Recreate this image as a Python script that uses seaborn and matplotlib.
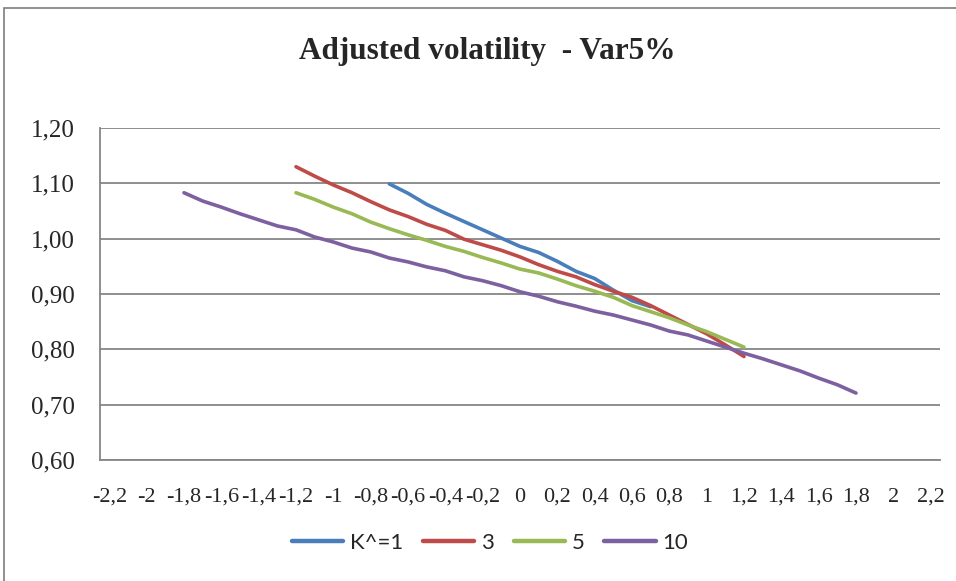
import pandas as pd
import seaborn as sns
import matplotlib.pyplot as plt
from matplotlib.lines import Line2D
from matplotlib.patches import Rectangle
from matplotlib.ticker import FixedLocator, FuncFormatter

sns.set_style("white")
plt.rcParams['font.family'] = ['Liberation Serif', 'DejaVu Serif']

# x categories for each curve
X_K1 = [-0.7, -0.6, -0.5, -0.4, -0.3, -0.2, -0.1, 0.0, 0.1, 0.2, 0.3, 0.4, 0.5, 0.6, 0.7]
X_K3 = [-1.2, -1.1, -1.0, -0.9, -0.8, -0.7, -0.6, -0.5, -0.4, -0.3, -0.2, -0.1, 0.0,
        0.1, 0.2, 0.3, 0.4, 0.5, 0.6, 0.7, 0.8, 0.9, 1.0, 1.1, 1.2]
X_K5 = X_K3
X_K10 = [-1.8, -1.7, -1.6, -1.5, -1.4, -1.3, -1.2, -1.1, -1.0, -0.9, -0.8, -0.7, -0.6,
         -0.5, -0.4, -0.3, -0.2, -0.1, 0.0, 0.1, 0.2, 0.3, 0.4, 0.5, 0.6, 0.7, 0.8,
         0.9, 1.0, 1.1, 1.2, 1.3, 1.4, 1.5, 1.6, 1.7, 1.8]

# adjusted volatility
Y_K1 = [1.099, 1.082, 1.062, 1.046, 1.031, 1.016, 1.001, 0.986, 0.975, 0.959, 0.941,
        0.928, 0.907, 0.888, 0.877]
Y_K3 = [1.130, 1.113, 1.097, 1.083, 1.067, 1.052, 1.040, 1.026, 1.015, 0.999, 0.989,
        0.979, 0.967, 0.953, 0.941, 0.931, 0.917, 0.905, 0.894, 0.879, 0.862, 0.845,
        0.828, 0.808, 0.787]
Y_K5 = [1.083, 1.071, 1.057, 1.045, 1.030, 1.018, 1.007, 0.997, 0.986, 0.977, 0.966,
        0.956, 0.945, 0.938, 0.927, 0.915, 0.905, 0.894, 0.879, 0.868, 0.857, 0.844,
        0.832, 0.818, 0.804]
Y_K10 = [1.083, 1.068, 1.057, 1.045, 1.034, 1.023, 1.016, 1.003, 0.994, 0.983, 0.976,
         0.965, 0.958, 0.949, 0.942, 0.931, 0.924, 0.915, 0.904, 0.896, 0.886, 0.878,
         0.869, 0.862, 0.853, 0.844, 0.833, 0.826, 0.815, 0.804, 0.793, 0.783, 0.772,
         0.761, 0.748, 0.736, 0.721]

SERIES = ['K^=1', '3', '5', '10']
COLORS = {'K^=1': '#4A7EBB', '3': '#BE4B48', '5': '#98B954', '10': '#7D60A0'}

XTICKS = [-2.2, -2.0, -1.8, -1.6, -1.4, -1.2, -1.0, -0.8, -0.6, -0.4, -0.2, 0.0,
          0.2, 0.4, 0.6, 0.8, 1.0, 1.2, 1.4, 1.6, 1.8, 2.0, 2.2]
YTICKS = [0.6, 0.7, 0.8, 0.9, 1.0, 1.1, 1.2]

frames = []
for name, xs, ys in zip(SERIES, [X_K1, X_K3, X_K5, X_K10], [Y_K1, Y_K3, Y_K5, Y_K10]):
    frames.append(pd.DataFrame({'x': xs, 'y': ys, 'K': name}))
df = pd.concat(frames, ignore_index=True)

fig = plt.figure(figsize=(9.56, 5.81), dpi=100)
ax = fig.add_axes([100 / 956, 1 - 460 / 581, 840 / 956, 332 / 581])

sns.lineplot(data=df, x='x', y='y', hue='K', palette=COLORS, hue_order=SERIES,
             sort=False, linewidth=2.6, legend=False, ax=ax, zorder=3)

grey = '#868686'
ax.set_xlim(-2.25, 2.25)
ax.set_ylim(0.6, 1.2)
ax.set_yticks(YTICKS)
ax.yaxis.grid(True, color=grey, linewidth=1.3)
ax.xaxis.grid(False)
ax.set_axisbelow(True)
for side in ['top', 'right']:
    ax.spines[side].set_visible(False)
for side in ['left', 'bottom']:
    ax.spines[side].set_color(grey)
    ax.spines[side].set_linewidth(1.3)

def comma(v, pos=None):
    s = f"{v:.1f}".rstrip('0').rstrip('.')
    if s == '-0':
        s = '0'
    return s.replace('.', ',')

ax.xaxis.set_major_locator(FixedLocator(XTICKS))
ax.xaxis.set_major_formatter(FuncFormatter(comma))
ax.xaxis.set_minor_locator(FixedLocator([-2.25 + 0.1 * i for i in range(46)]))
ax.yaxis.set_major_formatter(FuncFormatter(lambda v, p: f"{v:.2f}".replace('.', ',')))
ax.tick_params(axis='x', which='major', length=0, pad=20, labelsize=16)
ax.tick_params(axis='x', which='minor', length=4, width=1.2, color=grey, direction='out')
ax.tick_params(axis='y', which='major', length=6, width=1.2, color=grey, pad=12, labelsize=18)
ax.set_xlabel('')
ax.set_ylabel('')

fig.text(487 / 956, 1 - 52 / 581, 'Adjusted volatility  - Var5%', ha='center', va='center',
         fontsize=22.5, fontweight='bold')

handles = [Line2D([0], [0], color=COLORS[s], linewidth=3.2) for s in SERIES]
fig.legend(handles, SERIES, loc='center', bbox_to_anchor=(490 / 956, 1 - 543 / 581),
           ncol=4, frameon=False, handlelength=2.3, handletextpad=0.3, columnspacing=0.9,
           prop={'family': 'Lato', 'size': 16})

fig.patches.append(Rectangle((4 / 956, -0.1), 1.2, 1.1 - 8 / 581, transform=fig.transFigure,
                             fill=False, edgecolor='#888888', linewidth=1.3))

fig.savefig('out.png', dpi=100)
